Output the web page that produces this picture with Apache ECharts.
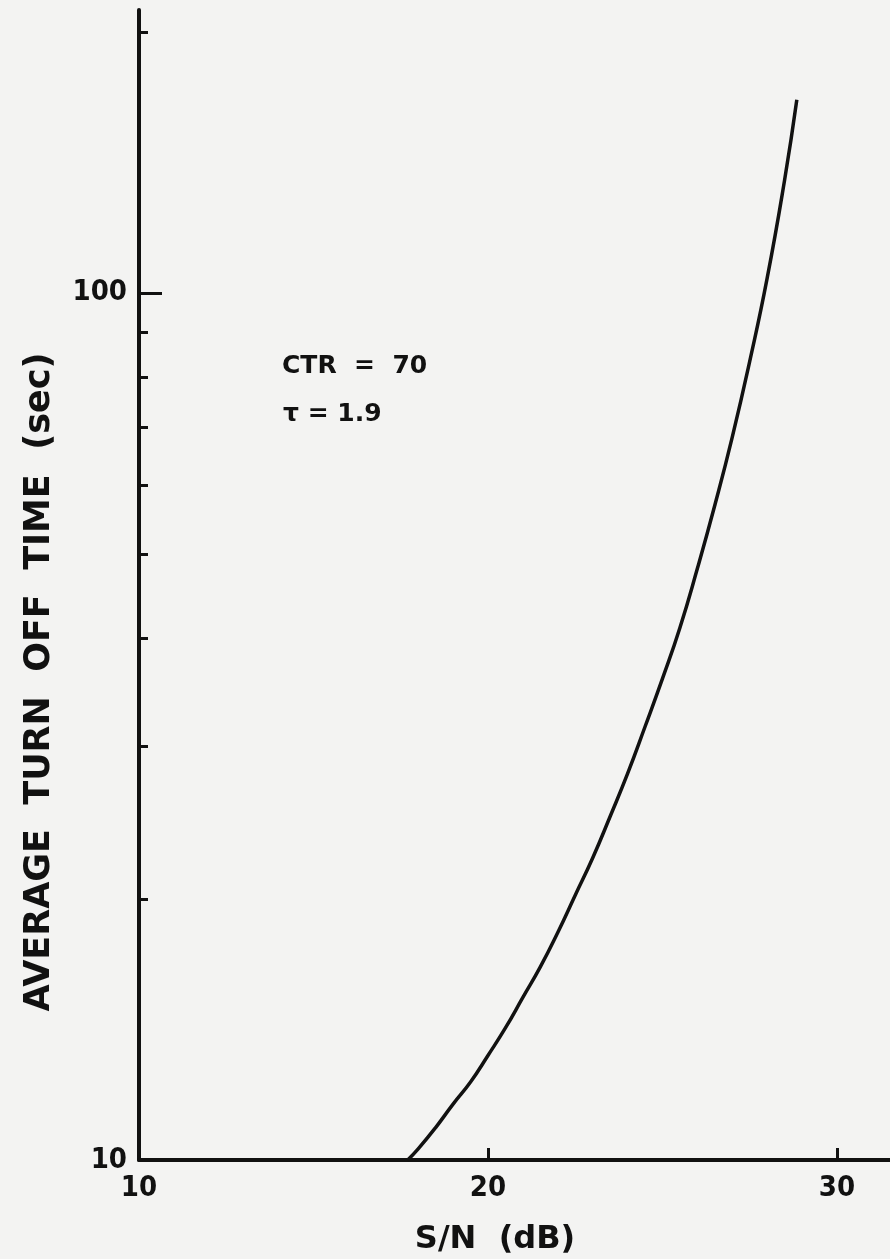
<!DOCTYPE html>
<html>
<head>
<meta charset="utf-8">
<script src="https://cdn.jsdelivr.net/npm/echarts@6/dist/echarts.min.js"></script>
<style>
  html, body { margin: 0; padding: 0; background: #f3f3f2; }
  #chart { width: 890px; height: 1259px; }
</style>
</head>
<body>
<div id="chart"></div>
<script>
// Average turn-off time versus signal-to-noise ratio (CTR = 70, tau = 1.9)
const snrDb = [17.7, 18.0, 18.5, 19.0, 19.5, 20.0, 20.5, 21.0, 21.5, 22.0, 22.5, 23.0,
               23.5, 24.0, 24.5, 25.0, 25.5, 26.0, 26.5, 27.0, 27.5, 28.0, 28.5, 28.85];
const turnOffSec = [10.0, 10.3, 10.9, 11.6, 12.3, 13.2, 14.2, 15.4, 16.7, 18.3, 20.2, 22.3,
                    24.9, 27.9, 31.6, 35.9, 41.1, 48.1, 56.9, 68.2, 83.4, 104, 135, 167];

const xLabelValues = [10, 20, 30];
const xTickValues = [20, 30];
const yLabelValues = [10, 100];
const yMinorTickValues = [20, 30, 40, 50, 60, 70, 80, 90, 200];
const yMajorTickValues = [100];

const ink = '#111111';
const numFont = "'Liberation Sans Narrow', 'DejaVu Sans Condensed', 'DejaVu Sans', sans-serif";
const textFont = "'DejaVu Sans', sans-serif";

const chart = echarts.init(document.getElementById('chart'), null, { renderer: 'canvas' });

chart.setOption({
  backgroundColor: '#f3f3f2',
  animation: false,
  grid: { left: 139, right: 0, top: 10, bottom: 99 },
  xAxis: {
    type: 'value',
    min: 10,
    max: 31.52,
    interval: 10,
    splitLine: { show: false },
    axisLine: { show: true, onZero: false, lineStyle: { color: ink, width: 4 } },
    axisTick: { show: true, inside: true, length: 12, customValues: xTickValues, lineStyle: { color: ink, width: 3 } },
    axisLabel: {
      customValues: xLabelValues,
      margin: 14,
      color: ink,
      fontFamily: numFont,
      fontWeight: 'bold',
      fontSize: 29
    }
  },
  yAxis: [
    {
      type: 'log',
      logBase: 10,
      min: 10,
      max: 212,
      splitLine: { show: false },
      axisLine: { show: true, onZero: false, lineStyle: { color: ink, width: 4 } },
      axisTick: { show: true, inside: true, length: 9, customValues: yMinorTickValues, lineStyle: { color: ink, width: 3 } },
      axisLabel: {
        customValues: yLabelValues,
        margin: 12,
        color: ink,
        fontFamily: numFont,
        fontWeight: 'bold',
        fontSize: 29
      }
    },
    {
      type: 'log',
      logBase: 10,
      min: 10,
      max: 212,
      position: 'left',
      splitLine: { show: false },
      axisLine: { show: false },
      axisTick: { show: true, inside: true, length: 23, customValues: yMajorTickValues, lineStyle: { color: ink, width: 3 } },
      axisLabel: { show: false }
    }
  ],
  graphic: [
    {
      type: 'text',
      x: 40,
      y: 682,
      rotation: Math.PI / 2,
      style: {
        text: 'AVERAGE  TURN  OFF  TIME  (sec)',
        fill: ink,
        font: 'bold 35px ' + textFont,
        textAlign: 'center',
        textVerticalAlign: 'middle'
      }
    },
    {
      type: 'text',
      x: 495,
      y: 1240,
      style: {
        text: 'S/N  (dB)',
        fill: ink,
        font: 'bold 32px ' + textFont,
        textAlign: 'center',
        textVerticalAlign: 'middle'
      }
    },
    {
      type: 'text',
      x: 282,
      y: 366,
      style: {
        text: 'CTR  =  70',
        fill: ink,
        font: 'bold 25px ' + textFont,
        textAlign: 'left',
        textVerticalAlign: 'middle'
      }
    },
    {
      type: 'text',
      x: 283,
      y: 414,
      style: {
        text: 'τ = 1.9',
        fill: ink,
        font: 'bold 25px ' + textFont,
        textAlign: 'left',
        textVerticalAlign: 'middle'
      }
    }
  ],
  series: [
    {
      type: 'line',
      xAxisIndex: 0,
      yAxisIndex: 0,
      data: snrDb.map((s, i) => [s, turnOffSec[i]]),
      smooth: true,
      showSymbol: false,
      lineStyle: { color: ink, width: 3.5 }
    }
  ]
});
</script>
</body>
</html>
